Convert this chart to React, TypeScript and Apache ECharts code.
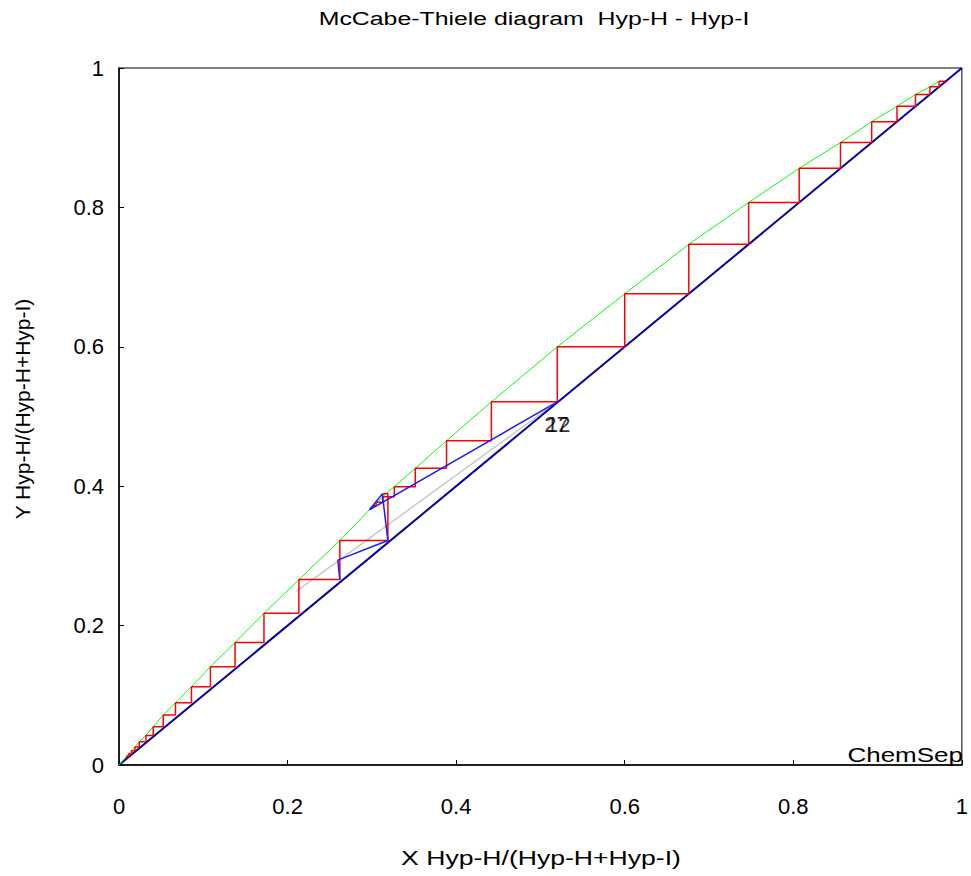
import React, { useEffect, useRef } from "react";
import * as echarts from "echarts";

const TITLE = "McCabe-Thiele diagram  Hyp-H - Hyp-I";
const X_NAME = "X Hyp-H/(Hyp-H+Hyp-I)";
const Y_NAME = "Y Hyp-H/(Hyp-H+Hyp-I)";
const BRAND = "ChemSep";
const FEED_LABELS = ["27", "12"];
const FEED_LABEL_X = [0.519, 0.521];
const FEED_LABEL_Y = [0.489, 0.489];

// equilibrium curve (green)
const eqX = [0, 0.009, 0.0115, 0.015, 0.019, 0.024, 0.032, 0.0406, 0.0525, 0.067, 0.086, 0.1085, 0.1377, 0.172, 0.2134, 0.262, 0.297, 0.3128, 0.3266, 0.3515, 0.3886, 0.4418, 0.52, 0.6, 0.676, 0.747, 0.807, 0.856, 0.893, 0.923, 0.945, 0.962, 0.973];
const eqY = [0, 0.0125, 0.016, 0.0205, 0.026, 0.0335, 0.0425, 0.055, 0.0717, 0.0894, 0.1124, 0.141, 0.1757, 0.2176, 0.266, 0.322, 0.366, 0.385, 0.3993, 0.4256, 0.4653, 0.521, 0.6, 0.676, 0.747, 0.807, 0.856, 0.893, 0.923, 0.945, 0.962, 0.973, 0.981];

// upper stages (rectifying + stripping into the pinch)
const xDistillate = 0.981;
const stageX = [0.973, 0.962, 0.945, 0.923, 0.893, 0.856, 0.807, 0.747, 0.676, 0.6, 0.52, 0.4418, 0.3886, 0.3515, 0.3266, 0.3128, 0.305, 0.301, 0.299, 0.298];
const stageY = [0.981, 0.973, 0.962, 0.945, 0.923, 0.893, 0.856, 0.807, 0.747, 0.676, 0.6, 0.521, 0.4653, 0.4256, 0.3993, 0.385, 0.377, 0.372, 0.369, 0.3675];

// connector from the pinch back to the diagonal
const pinchX = [0.3124, 0.319, 0.319];
const pinchY = [0.389, 0.389, 0.322];

// lower stages
const lowStartX = 0.319;
const lowX = [0.262, 0.2134, 0.172, 0.1377, 0.1085, 0.086, 0.067, 0.0525, 0.0406, 0.032, 0.024, 0.019, 0.015, 0.0115, 0.009];
const lowY = [0.322, 0.266, 0.2176, 0.1757, 0.141, 0.1124, 0.0894, 0.0717, 0.055, 0.0425, 0.0335, 0.026, 0.0205, 0.016, 0.0125];
const lowEndY = 0.0095;

// operating lines (blue)
const opAX = [0.52, 0.297];
const opAY = [0.521, 0.366];
const opBX = [0.297, 0.3124, 0.319, 0.2596, 0.262];
const opBY = [0.366, 0.389, 0.322, 0.294, 0.266];

// grey line
const greyX = [0.52, 0.2107];
const greyY = [0.521, 0.2496];

// diagonal
const diagX = [0, 1];
const diagY = [0, 1];

const zip = (xs: number[], ys: number[]) => xs.map((x, i) => [x, ys[i]]);

function stair(startX: number, xs: number[], ys: number[], endY?: number) {
  const pts: number[][] = [[startX, ys[0]]];
  for (let i = 0; i < xs.length; i++) {
    pts.push([xs[i], ys[i]]);
    if (i + 1 < xs.length) pts.push([xs[i], ys[i + 1]]);
    else if (endY !== undefined) pts.push([xs[i], endY]);
  }
  return pts;
}

const FONT = "Liberation Sans, Arial, sans-serif";

export default function App() {
  const ref = useRef<HTMLDivElement>(null);
  useEffect(() => {
    if (!ref.current) return;
    const chart = echarts.init(ref.current, undefined, { renderer: "svg" });
    const line = (data: number[][], color: string, width: number, z: number) => ({
      type: "line",
      data,
      symbol: "none",
      showSymbol: false,
      silent: true,
      z,
      lineStyle: { color, width },
    });
    chart.setOption({
      animation: false,
      backgroundColor: "#ffffff",
      grid: {
        left: 119,
        top: 68,
        right: 7,
        bottom: 111,
        show: true,
        borderColor: "#000",
        borderWidth: 1,
        backgroundColor: "transparent",
      },
      xAxis: {
        type: "value",
        min: 0,
        max: 1,
        interval: 0.2,
        axisLine: { show: true, lineStyle: { color: "#000", width: 1.5 } },
        axisTick: { show: true, inside: true, length: 5, lineStyle: { color: "#000" } },
        splitLine: { show: false },
        axisLabel: {
          color: "#000",
          fontSize: 22,
          fontFamily: FONT,
          margin: 30,
          formatter: (v: number) => String(Math.round(v * 10) / 10),
        },
      },
      yAxis: {
        type: "value",
        min: 0,
        max: 1,
        interval: 0.2,
        axisLine: { show: true, lineStyle: { color: "#000", width: 1.5 } },
        axisTick: { show: true, inside: true, length: 5, lineStyle: { color: "#000" } },
        splitLine: { show: false },
        axisLabel: {
          color: "#000",
          fontSize: 22,
          fontFamily: FONT,
          margin: 15,
          formatter: (v: number) => String(Math.round(v * 10) / 10),
        },
      },
      graphic: [
        {
          type: "text",
          x: 534,
          y: 19,
          scaleX: 1.38,
          style: { text: TITLE, fill: "#000", font: `18px ${FONT}`, textAlign: "center", textVerticalAlign: "middle" },
        },
        {
          type: "text",
          x: 541,
          y: 858,
          scaleX: 1.33,
          style: { text: X_NAME, fill: "#000", font: `20px ${FONT}`, textAlign: "center", textVerticalAlign: "middle" },
        },
        {
          type: "text",
          x: 22,
          y: 409,
          rotation: Math.PI / 2,
          style: { text: Y_NAME, fill: "#000", font: `21px ${FONT}`, textAlign: "center", textVerticalAlign: "middle" },
        },
        {
          type: "text",
          x: 963,
          y: 755,
          scaleX: 1.3,
          style: { text: BRAND, fill: "#000", font: `20px ${FONT}`, textAlign: "right", textVerticalAlign: "middle" },
        },
      ],
      series: [
        line(zip(greyX, greyY), "#c8c8c8", 1.5, 2),
        line(zip(diagX, diagY), "#00009c", 2, 3),
        line(zip(eqX, eqY), "#00ff00", 1, 4),
        line(stair(xDistillate, stageX, stageY), "#ff0000", 1.5, 5),
        line(zip(pinchX, pinchY), "#ff0000", 1.5, 5),
        line(stair(lowStartX, lowX, lowY, lowEndY), "#ff0000", 1.5, 5),
        line(zip(opAX, opAY), "#1a1aff", 1.5, 6),
        line(zip(opBX, opBY), "#1a1aff", 1.5, 6),
        {
          type: "scatter",
          silent: true,
          z: 7,
          symbolSize: 0,
          data: FEED_LABELS.map((t, i) => ({ value: [FEED_LABEL_X[i], FEED_LABEL_Y[i]], name: t })),
          label: {
            show: true,
            position: "inside",
            formatter: (p: any) => p.name,
            color: "#000",
            fontSize: 22,
            fontFamily: FONT,
          },
        },
      ],
    });
    return () => chart.dispose();
  }, []);
  return <div ref={ref} style={{ position: "fixed", left: 0, top: 0, width: 971, height: 876, background: "#fff" }} />;
}
